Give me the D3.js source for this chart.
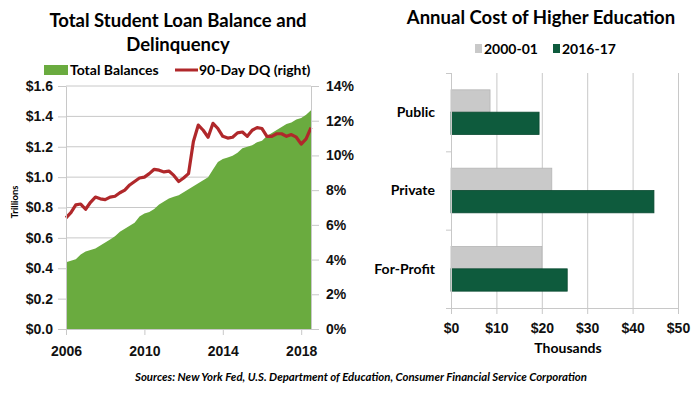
<!DOCTYPE html>
<html>
<head>
<meta charset="utf-8">
<script src="https://cdn.jsdelivr.net/npm/d3@7"></script>
<style>
  body { margin: 0; background: #fff; }
  svg { display: block; font-family: Lato, "Open Sans", sans-serif; }
  .tick text { font-weight: bold; }
</style>
</head>
<body>
<svg id="chart" width="700" height="396"></svg>
<script>
// quarterly, 2006 Q1 .. 2018 Q3
var startYear = 2006;
var balances = [
  0.44, 0.45, 0.46, 0.49,
  0.51, 0.52, 0.53, 0.55,
  0.57, 0.59, 0.61, 0.64,
  0.66, 0.68, 0.70, 0.74,
  0.76, 0.77, 0.79, 0.82,
  0.84, 0.86, 0.87, 0.88,
  0.90, 0.92, 0.94, 0.96,
  0.98, 1.00, 1.05, 1.10,
  1.12, 1.13, 1.14, 1.16,
  1.19, 1.20, 1.21, 1.23,
  1.24, 1.27, 1.29, 1.31,
  1.33, 1.35, 1.36, 1.38,
  1.39, 1.41, 1.44
];
var dq90 = [
  6.4, 6.7, 7.15, 7.2,
  6.9, 7.3, 7.6, 7.5,
  7.45, 7.6, 7.65, 7.85,
  8.0, 8.3, 8.5, 8.7,
  8.75, 8.95, 9.2, 9.15,
  9.05, 9.1, 8.85, 8.5,
  8.7, 8.95, 10.8, 11.75,
  11.45, 11.05, 11.85, 11.55,
  11.1, 11.0, 11.05, 11.3,
  11.35, 11.1, 11.45, 11.6,
  11.55, 11.1, 11.1, 11.25,
  11.25, 11.1, 11.2, 11.05,
  10.65, 10.95, 11.6
];
var yearTicks = [2006, 2010, 2014, 2018];
var balanceTicks = [0, 0.2, 0.4, 0.6, 0.8, 1.0, 1.2, 1.4, 1.6];
var dqTicks = [0, 2, 4, 6, 8, 10, 12, 14];

var sectors = ['Public', 'Private', 'For-Profit'];
var years = ['2000-01', '2016-17'];
var cost2000 = [8.6, 22.2, 20.0];
var cost2016 = [19.4, 44.7, 25.6];
var costTicks = [0, 10, 20, 30, 40, 50];

var svg = d3.select('#chart');
var gridColor = '#c8c8c8';

// ---------- left: loan balance & delinquency ----------
var x = d3.scaleLinear().domain([startYear, startYear + (balances.length - 1) / 4]).range([66, 311]);
var yL = d3.scaleLinear().domain([0, 1.6]).range([329, 86]);
var yR = d3.scaleLinear().domain([0, 14]).range([329, 86]);

var left = svg.append('g');

left.append('g').selectAll('line').data(balanceTicks.slice(1)).join('line')
  .attr('x1', 66).attr('x2', 311)
  .attr('y1', function(d) { return yL(d); }).attr('y2', function(d) { return yL(d); })
  .attr('stroke', gridColor);

var area = d3.area()
  .x(function(d, i) { return x(startYear + i / 4); })
  .y0(yL(0))
  .y1(function(d) { return yL(d); });
left.append('path').datum(balances).attr('d', area).attr('fill', '#6aab3f');

var line = d3.line()
  .x(function(d, i) { return x(startYear + i / 4); })
  .y(function(d) { return yR(d); });
left.append('path').datum(dq90).attr('d', line)
  .attr('fill', 'none').attr('stroke', '#b0282b').attr('stroke-width', 3.2)
  .attr('stroke-linejoin', 'round');

function styleAxis(g) {
  g.select('.domain').attr('stroke', gridColor);
  g.selectAll('.tick line').attr('stroke', gridColor);
  g.selectAll('.tick text').attr('fill', '#111').style('font-size', '14px');
}

left.append('g').attr('transform', 'translate(66,0)')
  .call(d3.axisLeft(yL).tickValues(balanceTicks).tickFormat(function(d) { return '$' + d3.format('.1f')(d); })
    .tickSize(8).tickPadding(5).tickSizeOuter(0))
  .call(styleAxis);

left.append('g').attr('transform', 'translate(311,0)')
  .call(d3.axisRight(yR).tickValues(dqTicks).tickFormat(function(d) { return d + '%'; })
    .tickSize(8).tickPadding(7).tickSizeOuter(0))
  .call(styleAxis);

left.append('g').attr('transform', 'translate(0,329)')
  .call(d3.axisBottom(x).tickValues(yearTicks).tickFormat(d3.format('d'))
    .tickSize(6).tickPadding(11).tickSizeOuter(0))
  .call(styleAxis);

left.append('text').attr('transform', 'translate(18,202) rotate(-90)')
  .attr('text-anchor', 'middle').style('font-size', '9.5px').style('font-weight', 'bold')
  .text('Trillions');

left.append('text').attr('x', 178).attr('y', 27).attr('text-anchor', 'middle')
  .style('font-size', '18.5px').style('font-weight', 'bold').text('Total Student Loan Balance and');
left.append('text').attr('x', 178).attr('y', 51).attr('text-anchor', 'middle')
  .style('font-size', '18.5px').style('font-weight', 'bold').text('Delinquency');

var legL = left.append('g').style('font-size', '14px').style('font-weight', 'bold');
legL.append('rect').attr('x', 44).attr('y', 65).attr('width', 24).attr('height', 10).attr('fill', '#6aab3f');
legL.append('text').attr('x', 70).attr('y', 75).text('Total Balances');
legL.append('line').attr('x1', 175).attr('x2', 198).attr('y1', 70).attr('y2', 70)
  .attr('stroke', '#b0282b').attr('stroke-width', 3);
legL.append('text').attr('x', 199).attr('y', 75).text('90-Day DQ (right)');

// ---------- right: annual cost ----------
var xc = d3.scaleLinear().domain([0, 50]).range([451, 678]);
var yc = d3.scaleBand().domain(sectors).range([73, 308]).paddingInner(0.43).paddingOuter(0.215);
var ys = d3.scaleBand().domain(years).range([0, yc.bandwidth()]);
var colors = { '2000-01': '#c9c9c9', '2016-17': '#0e5b3d' };
var strokes = { '2000-01': '#b5b5b5', '2016-17': '#0a4a31' };

var right = svg.append('g');

right.append('g').attr('transform', 'translate(0,308)')
  .call(d3.axisBottom(xc).tickValues(costTicks).tickFormat(function(d) { return '$' + d; })
    .tickSize(-235).tickPadding(12).tickSizeOuter(0))
  .call(styleAxis)
  .call(function(g) {
    g.selectAll('.tick line').attr('y2', 6).attr('y1', -235);
    g.selectAll('.tick text').attr('dy', '0.9em').attr('y', 12);
  });

var rows = sectors.map(function(s, i) { return { sector: s, values: [cost2000[i], cost2016[i]] }; });
right.append('g').selectAll('g').data(rows).join('g')
  .attr('transform', function(d) { return 'translate(0,' + yc(d.sector) + ')'; })
  .selectAll('rect').data(function(d) { return d.values.map(function(v, j) { return { year: years[j], value: v }; }); })
  .join('rect')
  .attr('x', xc(0)).attr('y', function(d) { return ys(d.year); })
  .attr('width', function(d) { return xc(d.value) - xc(0); })
  .attr('height', ys.bandwidth())
  .attr('fill', function(d) { return colors[d.year]; })
  .attr('stroke', function(d) { return strokes[d.year]; }).attr('stroke-width', 0.8);

// left axis with ticks at category boundaries
var yBound = d3.scaleLinear().domain([0, sectors.length]).range([73, 308]);
right.append('g').attr('transform', 'translate(451,0)')
  .call(d3.axisLeft(yBound).ticks(3).tickFormat('').tickSize(5).tickSizeOuter(0))
  .call(styleAxis);

right.append('g').selectAll('text').data(sectors).join('text')
  .attr('x', 435).attr('y', function(d) { return yc(d) + yc.bandwidth() / 2; })
  .attr('dy', '0.35em').attr('text-anchor', 'end')
  .style('font-size', '14px').style('font-weight', 'bold').text(function(d) { return d; });

right.append('text').attr('x', 568).attr('y', 353).attr('text-anchor', 'middle')
  .style('font-size', '14px').style('font-weight', 'bold').text('Thousands');

right.append('text').attr('x', 541).attr('y', 24).attr('text-anchor', 'middle')
  .style('font-size', '18.5px').style('font-weight', 'bold').text('Annual Cost of Higher Education');

var legR = right.append('g').style('font-size', '14px').style('font-weight', 'bold');
legR.append('rect').attr('x', 475).attr('y', 44).attr('width', 7).attr('height', 9).attr('fill', colors['2000-01']);
legR.append('text').attr('x', 484).attr('y', 54).text('2000-01');
legR.append('rect').attr('x', 553).attr('y', 44).attr('width', 7).attr('height', 9).attr('fill', colors['2016-17']);
legR.append('text').attr('x', 562).attr('y', 54).text('2016-17');

svg.append('text').attr('x', 361).attr('y', 381).attr('text-anchor', 'middle')
  .style('font-size', '11.4px').style('font-weight', 'bold').style('font-style', 'italic')
  .text('Sources: New York Fed, U.S. Department of Education, Consumer Financial Service Corporation');
</script>
</body>
</html>
